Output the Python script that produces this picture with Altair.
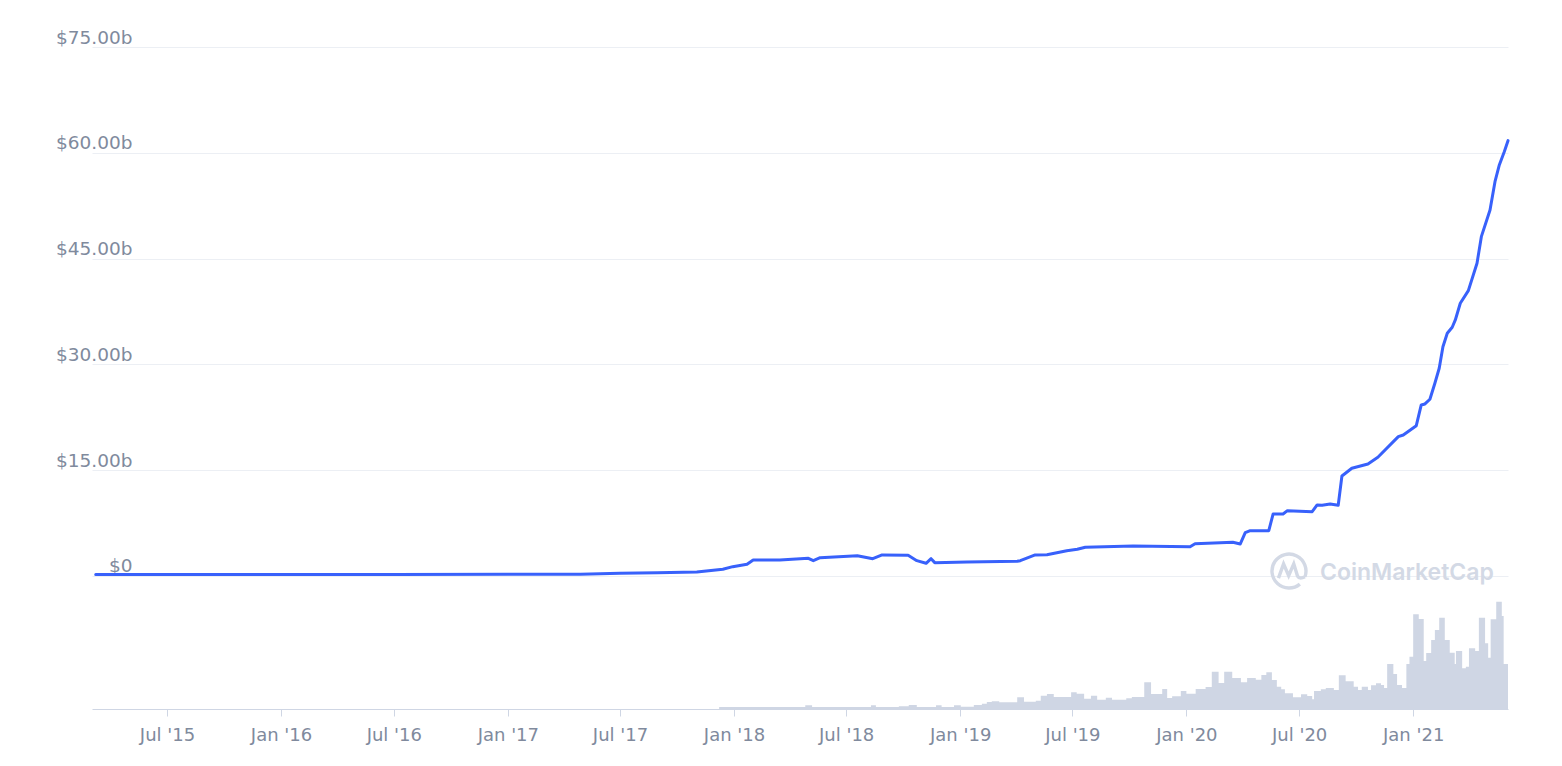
import altair as alt
import pandas as pd

# Market cap (billions USD)
cap_dates = [
    "2015-03-08", "2016-01-01", "2016-07-01", "2017-01-01", "2017-04-28",
    "2017-07-01", "2017-08-30", "2017-11-02", "2017-12-14", "2017-12-30",
    "2018-01-22", "2018-02-01", "2018-03-16", "2018-05-01", "2018-05-09",
    "2018-05-20", "2018-07-19", "2018-08-13", "2018-08-28", "2018-10-09",
    "2018-10-23", "2018-11-07", "2018-11-15", "2018-11-21", "2019-01-12",
    "2019-04-03", "2019-04-08", "2019-05-02", "2019-05-21", "2019-06-06",
    "2019-06-22", "2019-07-09", "2019-07-22", "2019-10-07", "2020-01-07",
    "2020-01-15", "2020-03-16", "2020-03-28", "2020-04-05", "2020-04-13",
    "2020-05-13", "2020-05-20", "2020-06-05", "2020-06-12", "2020-07-22",
    "2020-07-30", "2020-08-07", "2020-08-20", "2020-09-02", "2020-09-08",
    "2020-09-24", "2020-10-20", "2020-11-05", "2020-12-08", "2020-12-16",
    "2021-01-06", "2021-01-14", "2021-01-20", "2021-01-28", "2021-02-05",
    "2021-02-12", "2021-02-18", "2021-02-25", "2021-03-05", "2021-03-10",
    "2021-03-18", "2021-03-31", "2021-04-14", "2021-04-21", "2021-05-05",
    "2021-05-13", "2021-05-20", "2021-05-28", "2021-06-03",
]
cap_values = [
    0.20, 0.21, 0.22, 0.23, 0.24,
    0.38, 0.47, 0.57, 0.95, 1.32,
    1.66, 2.27, 2.27, 2.51, 2.17,
    2.59, 2.88, 2.45, 2.98, 2.93,
    2.17, 1.80, 2.45, 1.89, 1.99,
    2.08, 2.17, 2.98, 3.02, 3.30,
    3.59, 3.78, 4.07, 4.25, 4.15,
    4.58, 4.78, 4.54, 6.14, 6.42,
    6.42, 8.79, 8.79, 9.26, 9.12,
    10.07, 10.03, 10.21, 10.03, 14.18,
    15.27, 15.88, 16.83, 19.75, 19.99,
    21.31, 24.25, 24.39, 25.06, 27.32,
    29.45, 32.51, 34.41, 35.27, 36.30,
    38.67, 40.46, 44.34, 48.11, 51.90,
    55.91, 58.28, 60.16, 61.72,
]

# Trading volume (billions USD), value holds from each date to the next
vol_dates = [
    "2017-12-08", "2018-04-26", "2018-05-07", "2018-08-10", "2018-08-18",
    "2018-09-24", "2018-10-10", "2018-10-23", "2018-11-23", "2018-12-02",
    "2018-12-22", "2019-01-02", "2019-01-23", "2019-02-05", "2019-02-13",
    "2019-02-21", "2019-03-05", "2019-04-03", "2019-04-14", "2019-05-03",
    "2019-05-11", "2019-05-21", "2019-06-01", "2019-06-29", "2019-07-08",
    "2019-07-20", "2019-07-31", "2019-08-10", "2019-08-24", "2019-09-03",
    "2019-09-26", "2019-10-05", "2019-10-25", "2019-11-05", "2019-11-23",
    "2019-12-01", "2019-12-09", "2019-12-23", "2020-01-01", "2020-01-16",
    "2020-02-01", "2020-02-11", "2020-02-22", "2020-03-02", "2020-03-15",
    "2020-03-29", "2020-04-08", "2020-04-22", "2020-05-01", "2020-05-09",
    "2020-05-18", "2020-05-26", "2020-06-02", "2020-06-08", "2020-06-21",
    "2020-07-04", "2020-07-14", "2020-07-22", "2020-07-25", "2020-08-05",
    "2020-08-13", "2020-08-26", "2020-09-03", "2020-09-14", "2020-09-27",
    "2020-10-04", "2020-10-10", "2020-10-20", "2020-10-25", "2020-11-02",
    "2020-11-10", "2020-11-15", "2020-11-20", "2020-11-30", "2020-12-06",
    "2020-12-14", "2020-12-21", "2020-12-26", "2021-01-01", "2021-01-10",
    "2021-01-18", "2021-01-22", "2021-01-30", "2021-02-05", "2021-02-12",
    "2021-02-21", "2021-03-01", "2021-03-09", "2021-03-11", "2021-03-21",
    "2021-03-27", "2021-04-01", "2021-04-11", "2021-04-17", "2021-04-27",
    "2021-05-02", "2021-05-06", "2021-05-15", "2021-05-24", "2021-05-27",
    "2021-06-03",
]
vol_values = [
    3.6, 6.7, 3.6, 6.7, 3.6,
    4.9, 7.2, 3.6, 6.7, 3.6,
    6.7, 4.1, 7.2, 9.5, 12.6,
    13.9, 12.1, 21.1, 13.1, 14.9,
    23.9, 27.0, 21.6, 30.1, 27.5,
    18.5, 23.9, 16.7, 20.3, 16.7,
    19.3, 21.6, 48.1, 27.0, 36.0,
    19.8, 22.9, 32.4, 27.5, 36.0,
    39.6, 67.1, 46.8, 67.1, 55.8,
    48.1, 55.8, 52.7, 61.2, 66.1,
    52.2, 40.1, 35.5, 28.3, 21.1,
    26.5, 23.4, 17.5, 32.4, 35.5,
    37.8, 34.2, 60.7, 49.9, 40.1,
    34.2, 40.1, 34.2, 42.7, 46.3,
    43.2, 37.8, 81.0, 63.0, 43.2,
    37.8, 81.0, 94.1, 170.5, 162.0,
    86.4, 100.8, 124.2, 142.2, 164.3,
    124.2, 101.3, 81.0, 104.4, 73.3,
    76.1, 109.3, 104.4, 164.3, 118.3,
    92.3, 161.5, 193.1, 167.4, 81.0,
    81.0,
]

x_tick_dates = [
    (2015, 7), (2016, 1), (2016, 7), (2017, 1), (2017, 7), (2018, 1),
    (2018, 7), (2019, 1), (2019, 7), (2020, 1), (2020, 7), (2021, 1),
]
y_ticks = [0, 15, 30, 45, 60, 75]
watermark = ["CoinMarketCap"]

cap_df = pd.DataFrame({"date": pd.to_datetime(cap_dates), "cap": cap_values})
vol_df = pd.DataFrame({"date": pd.to_datetime(vol_dates), "vol": vol_values})

FONT = "DejaVu Sans"
LABEL = "#808a9d"
AXIS = "#cfd6e4"

x_scale = alt.Scale(domain=[alt.DateTime(year=2015, month=3, date=2),
                            alt.DateTime(year=2021, month=6, date=3)], nice=False)


def make_x_axis():
    return alt.Axis(
        values=[alt.DateTime(year=y, month=m, date=1) for y, m in x_tick_dates],
        format="%b '%y", grid=False, domain=True, domainColor=AXIS, domainWidth=1,
        ticks=True, tickColor=AXIS, tickSize=7, tickWidth=1,
        labelColor=LABEL, labelFont=FONT, labelFontSize=18, labelPadding=10,
        labelBaseline="top", title=None, labelOverlap=False,
    )


W, H = 1416, 662

vol = alt.Chart(vol_df).mark_area(interpolate="step-after", color="#cfd6e4", clip=True).encode(
    x=alt.X("date:T", scale=x_scale, axis=make_x_axis()),
    y=alt.Y("vol:Q", scale=alt.Scale(domain=[0, 1191.6], nice=False, zero=True), axis=None),
)

line = alt.Chart(cap_df).mark_line(color="#3861fb", strokeWidth=3, strokeCap="round",
                                   strokeJoin="round").encode(
    x=alt.X("date:T", scale=x_scale, axis=make_x_axis()),
    y=alt.Y("cap:Q",
            scale=alt.Scale(domain=[-18.86, 75], nice=False, zero=False),
            axis=alt.Axis(values=y_ticks, grid=True, gridColor="#eceff4", gridWidth=1,
                          domain=False, ticks=False, title=None,
                          labelExpr="datum.value == 0 ? '$0' : '$' + format(datum.value, '.2f') + 'b'",
                          labelAlign="right", labelPadding=-40, labelBaseline="alphabetic",
                          labelOffset=-4, labelColor=LABEL, labelFont=FONT, labelFontSize=18.5)),
)

wm_df = pd.DataFrame({"t": watermark})
logo_path = ("M0.64,0.77 A1,1 0 1 1 0.94,0.34 "
             "M-0.62,0.42 L-0.32,-0.42 L-0.02,0.28 L0.28,-0.42 L0.5,0.3 Q0.62,0.5 0.94,0.34")
logo = alt.Chart(wm_df).mark_point(shape=logo_path, filled=False, color="#d3d9e5",
                                   strokeWidth=3.4, size=1156, opacity=1).encode(
    x=alt.value(1197), y=alt.value(524),
)
text = alt.Chart(wm_df).mark_text(align="left", baseline="middle", font="Inter", fontSize=23,
                                  fontWeight=600, color="#d3d9e5").encode(
    x=alt.value(1228), y=alt.value(526), text="t:N",
)

chart = alt.layer(vol, line, logo, text).resolve_scale(y="independent").properties(
    width=W, height=H,
    autosize=alt.AutoSizeParams(type="none"),
    padding={"left": 84, "top": 39, "right": 40, "bottom": 45},
).configure(background="white").configure_view(stroke=None)

chart.save("out.html", embed_options={"renderer": "svg", "actions": False})
